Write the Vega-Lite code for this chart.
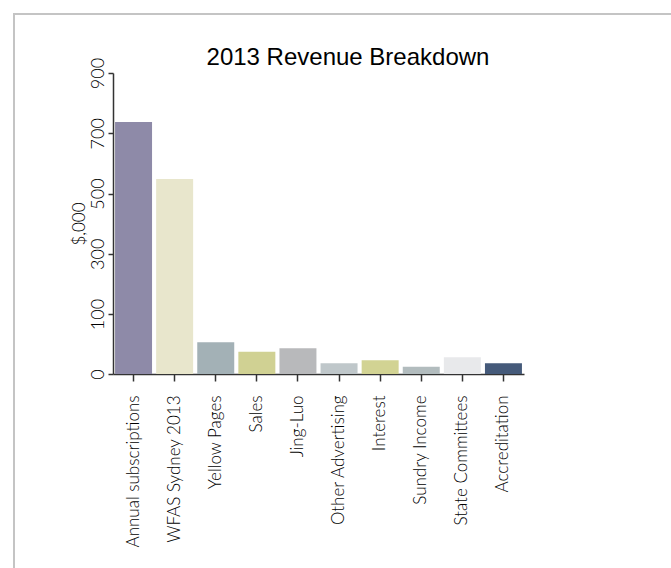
{
  "$schema": "https://vega.github.io/schema/vega-lite/v6.json",
  "autosize": "none",
  "padding": {"left": 14, "top": 14, "right": 0, "bottom": 0},
  "width": 668,
  "height": 600,
  "title": {
    "text": "2013 Revenue Breakdown",
    "font": "Liberation Sans",
    "fontSize": 24,
    "fontWeight": "normal",
    "color": "#000000",
    "anchor": "middle",
    "frame": "group",
    "offset": -56
  },
  "data": {
    "values": [
      {"item": "Annual subscriptions", "amount": 737},
      {"item": "WFAS Sydney 2013", "amount": 548},
      {"item": "Yellow Pages", "amount": 53},
      {"item": "Sales", "amount": 37},
      {"item": "Jing-Luo", "amount": 43},
      {"item": "Other Advertising", "amount": 18},
      {"item": "Interest", "amount": 23},
      {"item": "Sundry Income", "amount": 12},
      {"item": "State Committees", "amount": 28},
      {"item": "Accreditation", "amount": 18}
    ]
  },
  "mark": "bar",
  "encoding": {
    "x": {
      "field": "item",
      "type": "nominal",
      "sort": null,
      "title": null,
      "scale": {"range": [99, 510], "paddingInner": 0.1, "paddingOuter": 0.05},
      "axis": {
        "orient": "bottom",
        "offset": -240,
        "labelAngle": -90,
        "labelFont": "Lato",
        "labelFontSize": 17,
        "labelFontWeight": 300,
        "labelColor": "#000000",
        "labelPadding": 14,
        "tickSize": 7,
        "tickWidth": 1.5,
        "tickColor": "#333333",
        "domainColor": "#333333",
        "domainWidth": 1.5
      }
    },
    "y": {
      "field": "amount",
      "type": "quantitative",
      "title": "$,000",
      "scale": {"domain": [0, 100, 900], "range": [360, 300, 59], "nice": false},
      "axis": {
        "orient": "left",
        "offset": -99,
        "values": [0, 100, 300, 500, 700, 900],
        "grid": false,
        "labelAngle": -90,
        "labelAlign": "center",
        "labelBaseline": "bottom",
        "labelFont": "Lato",
        "labelFontSize": 18,
        "labelFontWeight": 300,
        "labelColor": "#000000",
        "labelPadding": 1,
        "tickSize": 5,
        "tickWidth": 1.5,
        "tickColor": "#333333",
        "domainColor": "#333333",
        "domainWidth": 1.5,
        "titleFont": "Lato",
        "titleFontSize": 17,
        "titleFontWeight": 300,
        "titleColor": "#000000",
        "titlePadding": 1
      }
    },
    "color": {
      "field": "item",
      "type": "nominal",
      "sort": null,
      "legend": null,
      "scale": {
        "domain": ["Annual subscriptions", "WFAS Sydney 2013", "Yellow Pages", "Sales", "Jing-Luo", "Other Advertising", "Interest", "Sundry Income", "State Committees", "Accreditation"],
        "range": ["#8e8aa8", "#e8e6cc", "#a3b1b6", "#d0d193", "#b8b9bb", "#bfc7ca", "#d2d393", "#b2bcbe", "#e8e9eb", "#455a7a"]
      }
    }
  },
  "config": {
    "view": {"stroke": "#c4c4c4", "strokeWidth": 2},
    "background": "#ffffff"
  }
}
